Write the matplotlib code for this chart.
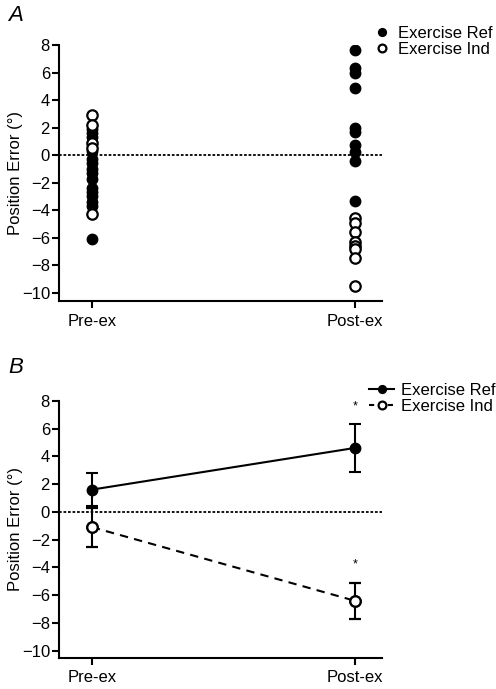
import matplotlib.pyplot as plt
from matplotlib.lines import Line2D

plt.rcParams['font.family'] = ['Liberation Sans', 'DejaVu Sans']
plt.rcParams['font.size'] = 12

# categories
groups = ['Pre-ex', 'Post-ex']

# Panel A: individual subjects
pre_ref = [1.9, 1.6, 1.3, 0.3, -0.3, -0.6, -1.0, -1.3, -1.7, -2.4, -2.7, -3.0, -3.4, -3.7, -6.1]
pre_ind = [2.9, 2.2, 0.9, 0.5, -4.3]
post_ref = [7.6, 6.3, 6.0, 4.9, 2.0, 1.7, 0.7, 0.2, -0.4, -3.3]
post_ind = [-4.6, -4.9, -5.6, -6.3, -6.6, -6.8, -7.5, -9.5]

# Panel B: means and errors
ref_mean = [1.6, 4.6]
ref_err = [1.2, 1.7]
ind_mean = [-1.1, -6.4]
ind_err = [1.4, 1.3]
star_y = [7.6, -3.8]

fig = plt.figure(figsize=(4.96, 6.89), dpi=100)
axA = fig.add_axes([0.119, 0.5631, 0.651, 0.3716])
axB = fig.add_axes([0.119, 0.0454, 0.651, 0.373])

ms = 7.5
ew = 1.6

# Panel A
axA.plot([0] * len(pre_ref), pre_ref, 'o', color='black', ms=ms, label='Exercise Ref')
axA.plot([1] * len(post_ref), post_ref, 'o', color='black', ms=ms)
axA.plot([0] * len(pre_ind), pre_ind, 'o', mfc='white', mec='black', mew=ew, ms=ms, label='Exercise Ind')
axA.plot([1] * len(post_ind), post_ind, 'o', mfc='white', mec='black', mew=ew, ms=ms)

# Panel B
x = [0, 1]
axB.errorbar(x, ref_mean, yerr=ref_err, fmt='-o', color='black', ms=ms, lw=1.5,
             elinewidth=1.5, capsize=4, capthick=1.5, zorder=3)
axB.errorbar(x, ind_mean, yerr=ind_err, fmt='o', color='black', mfc='white', mec='black',
             mew=ew, ms=ms, elinewidth=1.5, capsize=4, capthick=1.5, zorder=3)
axB.plot(x, ind_mean, '--o', color='black', mfc='white', mec='black', mew=ew, ms=ms, lw=1.5,
         dashes=(4, 3), zorder=4)
for yi in star_y:
    axB.text(1, yi, '*', ha='center', va='center', fontsize=9)

for ax in (axA, axB):
    ax.axhline(0, color='black', lw=1.3, ls=(0, (1.5, 1)), zorder=1)
    ax.set_xlim(-0.125, 1.103)
    ax.set_yticks(range(-10, 9, 2))
    ax.set_yticklabels([str(v).replace('-', '\u2212') for v in range(-10, 9, 2)])
    ax.set_xticks([0, 1])
    ax.set_xticklabels(groups)
    ax.set_ylabel('Position Error (\u00b0)')
    ax.yaxis.set_label_coords(-0.113, 0.5)
    ax.spines['top'].set_visible(False)
    ax.spines['right'].set_visible(False)
    ax.spines['left'].set_linewidth(1.5)
    ax.spines['bottom'].set_linewidth(1.5)
    ax.tick_params(width=1.5, length=5, direction='out')
    ax.tick_params(axis='y', pad=1.5)
    ax.tick_params(axis='x', pad=4)

axA.set_ylim(-10.6, 8)
axB.set_ylim(-10.5, 8)

fig.text(0.016, 0.978, 'A', fontsize=16, style='italic', va='center')
fig.text(0.016, 0.466, 'B', fontsize=16, style='italic', va='center')

axA.legend(loc='upper left', bbox_to_anchor=(374 / 496, 1 - 26 / 689), bbox_transform=fig.transFigure,
           frameon=False, borderpad=0, handlelength=1.0, handletextpad=0.45, labelspacing=0.05,
           markerscale=0.75, borderaxespad=0)

hB = [Line2D([], [], color='black', lw=1.5, marker='o', ms=ms * 0.75),
      Line2D([], [], color='black', lw=1.5, ls='--', dashes=(2.5, 2), marker='o', ms=ms * 0.75,
             mfc='white', mec='black', mew=ew)]
axB.legend(hB, ['Exercise Ref', 'Exercise Ind'], loc='upper left',
           bbox_to_anchor=(369 / 496, 1 - 383 / 689), bbox_transform=fig.transFigure,
           frameon=False, borderpad=0, handlelength=1.5, handletextpad=0.4, labelspacing=0.05,
           borderaxespad=0)

fig.savefig('out.png', dpi=100)
